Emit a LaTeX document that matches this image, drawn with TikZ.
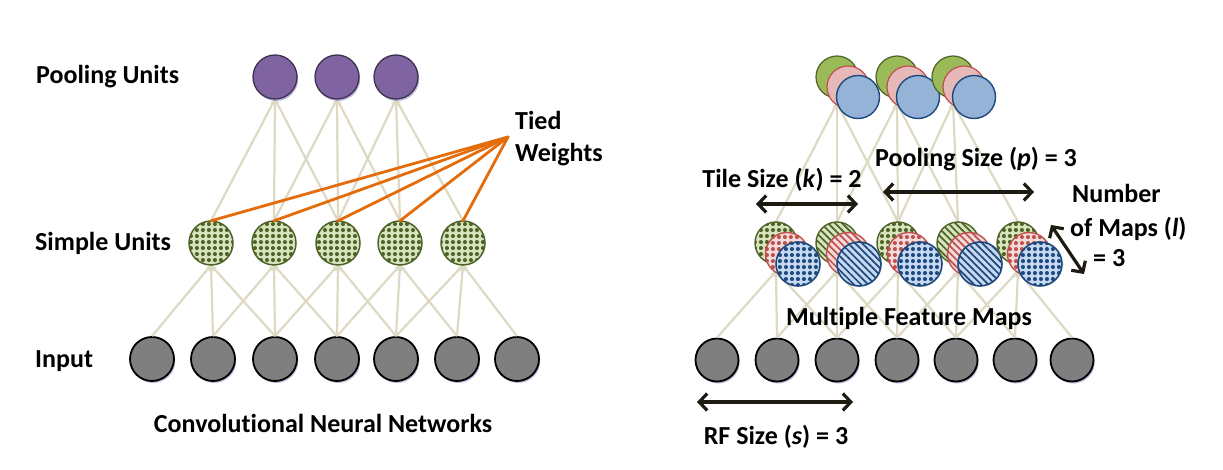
\documentclass[tikz,border=0pt]{standalone}
\usepackage{fontspec}
\setmainfont{Carlito}[Ligatures={NoCommon}]
\usetikzlibrary{arrows.meta,patterns.meta,shadows}
\definecolor{beige}{HTML}{DDD9C3}
\definecolor{inpgray}{HTML}{7F7F7F}
\definecolor{purp}{HTML}{8064A2}
\definecolor{purpdark}{HTML}{3F3151}
\definecolor{gdark}{HTML}{4F6228}
\definecolor{glight}{HTML}{D7E4BD}
\definecolor{gmid}{HTML}{9BBB59}
\definecolor{rdark}{HTML}{C0504D}
\definecolor{rlight}{HTML}{F2DCDB}
\definecolor{rmid}{HTML}{E6B9B8}
\definecolor{bdark}{HTML}{1F497D}
\definecolor{blight}{HTML}{C6D9F1}
\definecolor{bmid}{HTML}{95B3D7}
\definecolor{orng}{HTML}{E46C0A}
\definecolor{arrblack}{HTML}{1D1B11}
\begin{document}
\begin{tikzpicture}[x=1pt,y=-1pt,
  unit/.style={circle,inner sep=0pt,minimum size=44pt},
  shad/.style={drop shadow={shadow xshift=1.2pt,shadow yshift=-2pt,fill=black!50!blue!60,opacity=.45}},
  inp/.style={unit,shad,fill=inpgray,draw=black,line width=1.8pt},
  poolL/.style={unit,shad,fill=purp,draw=purpdark,line width=1.3pt},
  dotsP/.style={pattern={Dots[radius=2.2pt,distance=6.4pt]}},
  lineP/.style={pattern={Lines[angle=-45,distance=5pt,line width=1.7pt]}},
  simple/.style={unit,preaction={fill=glight},dotsP,pattern color=gdark,draw=gdark,line width=1.5pt},
  fg/.style={unit,minimum size=42pt,preaction={fill=glight},pattern color=gdark,draw=gdark,line width=1.4pt},
  fr/.style={unit,minimum size=43pt,preaction={fill=rlight},pattern color=rdark,draw=rdark,line width=1.4pt},
  fb/.style={unit,minimum size=44pt,preaction={fill=blight},pattern color=bdark,draw=bdark,line width=1.6pt},
  qg/.style={unit,minimum size=42pt,fill=gmid,draw=gdark,line width=1.2pt},
  qr/.style={unit,minimum size=42pt,fill=rmid,draw=rdark,line width=1.2pt},
  qb/.style={unit,minimum size=43pt,fill=bmid,draw=bdark,line width=1.4pt},
  conn/.style={draw=beige,line width=2.2pt,-{Stealth[length=6pt,width=5pt]}},
  tied/.style={draw=orng,line width=2.8pt,line cap=round},
  dim/.style={draw=arrblack,line width=3.2pt,{Straight Barb[length=8pt,width=17pt]}-{Straight Barb[length=8pt,width=17pt]}},
  lbl/.style={font=\bfseries\fontsize{26}{30}\selectfont,inner sep=0pt,text=black}
]
\useasboundingbox (0,0) rectangle (1223,470);

% ---------------- left panel: nodes
\foreach \x [count=\i] in {152,213,275,337,396,457,517}
  \node[inp] (L\i) at (\x,359) {};
\foreach \x [count=\i] in {211,274,338,400,463}
  \coordinate (Sc\i) at (\x,243);
\foreach \x [count=\i] in {275,337,396}
  \coordinate (Pc\i) at (\x,77);

% placeholders for anchors
\foreach \i in {1,...,5} \node[unit] (S\i) at (Sc\i) {};
\foreach \i in {1,2,3} \node[unit] (P\i) at (Pc\i) {};

% connectors left
\foreach \i in {1,...,5}
  \foreach \d in {0,1,2} {
    \pgfmathtruncatemacro\j{\i+\d}
    \draw[conn] (L\j.north) -- (S\i.south);
  }
\foreach \i in {1,2,3}
  \foreach \d in {0,1,2} {
    \pgfmathtruncatemacro\j{\i+\d}
    \draw[conn] (S\j.north) -- (P\i.south);
  }

\foreach \i in {1,...,5} \node[simple] at (S\i) {};
\foreach \i in {1,2,3} \node[poolL] at (P\i) {};

% tied weights
\coordinate (tw) at (508,137);
\foreach \i in {1,...,5} \draw[tied] (tw) -- (S\i.north);

\node[lbl,anchor=base west] (tpool) at (36,84) {Pooling Units};
\node[lbl,anchor=base west] (tsimple) at (35,251) {Simple Units};
\node[lbl,anchor=base west] (tinput) at (35,367) {Input};
\node[lbl,anchor=base west] (ttied) at (515,130) {Tied};
\node[lbl,anchor=base west] (tweights) at (515,162) {Weights};
\node[lbl,anchor=base] (tcnn) at (323,432) {Convolutional Neural Networks};

% ---------------- right panel
\foreach \x [count=\i] in {717,777,837,897,956,1015,1072}
  \node[inp,minimum size=43pt] (R\i) at (\x,360) {};
\foreach \x [count=\i] in {776,837,898,958,1018}
  \node[unit,minimum size=42pt] (Fg\i) at (\x,243) {};
\foreach \x [count=\i] in {837,897,953}
  \node[unit,minimum size=42pt] (Qg\i) at (\x,77) {};

\foreach \i in {1,...,5}
  \foreach \d in {0,1,2} {
    \pgfmathtruncatemacro\j{\i+\d}
    \draw[conn] (R\j.north) -- ([yshift=-7pt]Fg\i.south);
  }
\foreach \i in {1,2,3}
  \foreach \d in {0,1,2} {
    \pgfmathtruncatemacro\j{\i+\d}
    \draw[conn] (Fg\j.north) -- ([yshift=-5pt]Qg\i.south);
  }

% feature maps
\foreach \x [count=\i] in {776,837,898,958,1018} {
  \ifodd\i
    \node[fg,dotsP] at (Fg\i) {};
    \node[fr,dotsP] (Fr\i) at (\x+11,254) {};
    \node[fb,dotsP] (Fb\i) at (\x+22,264) {};
  \else
    \node[fg,lineP] at (Fg\i) {};
    \node[fr,lineP] (Fr\i) at (\x+11,254) {};
    \node[fb,lineP] (Fb\i) at (\x+22,264) {};
  \fi
}
% pooling maps
\foreach \x [count=\i] in {837,897,953} {
  \node[qg] at (Qg\i) {};
  \node[qr] (Qr\i) at (\x+11,87) {};
  \node[qb] (Qb\i) at (\x+21,97) {};
}

% dimension arrows
\coordinate (ta) at (756,204); \coordinate (tb) at (858,204);
\draw[dim] (ta) -- (tb);
\coordinate (pa) at (883,192); \coordinate (pb) at (1034,192);
\draw[dim] (pa) -- (pb);
\coordinate (ra) at (697,402); \coordinate (rb) at (853,402);
\draw[dim] (ra) -- (rb);
\coordinate (na) at (1051,225); \coordinate (nb) at (1084,274);
\draw[dim] (na) -- (nb);

\node[lbl,anchor=base] (ttile) at (782,188) {Tile Size (\textit{k}) = 2};
\node[lbl,anchor=base] (tps) at (976,167) {Pooling Size (\textit{p}) = 3};
\node[lbl,anchor=base west] (tnum) at (1072,203) {Number};
\node[lbl,anchor=base west] (tof) at (1070,237) {of Maps (\textit{l})};
\node[lbl,anchor=base west] (teq) at (1093,267) {= 3};
\node[lbl,anchor=base] (tmfm) at (909,325) {Multiple Feature Maps};
\node[lbl,anchor=base] (trf) at (776,444) {RF Size (\textit{s}) = 3};
\end{tikzpicture}
\end{document}
